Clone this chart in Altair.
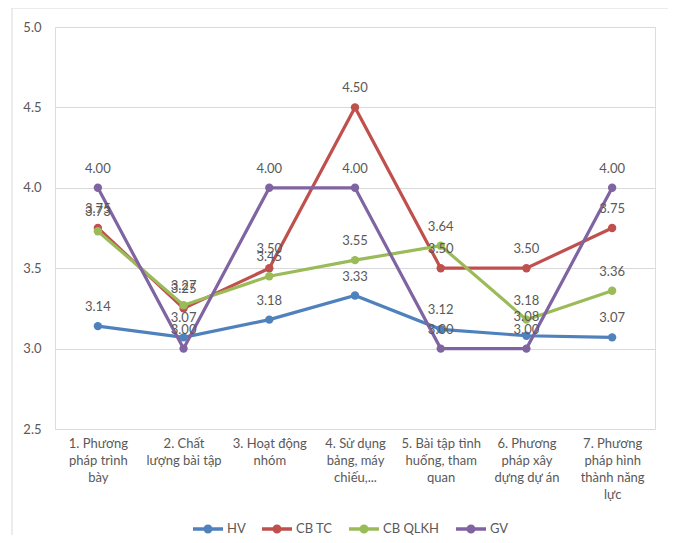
import altair as alt
import pandas as pd

category_lines = [
    ["1. Phương", "pháp trình", "bày"],
    ["2. Chất", "lượng bài tập"],
    ["3. Hoạt động", "nhóm"],
    ["4. Sử dụng", "bảng, máy", "chiếu,..."],
    ["5. Bài tập tình", "huống, tham", "quan"],
    ["6. Phương", "pháp xây", "dựng dự án"],
    ["7. Phương", "pháp hình", "thành năng", "lực"],
]
categories = ["\n".join(c) for c in category_lines]

series = ["HV", "CB TC", "CB QLKH", "GV"]
colors = ["#4F81BD", "#C0504D", "#9BBB59", "#8064A2"]

hv = [3.14, 3.07, 3.18, 3.33, 3.12, 3.08, 3.07]
cb_tc = [3.75, 3.25, 3.50, 4.50, 3.50, 3.50, 3.75]
cb_qlkh = [3.73, 3.27, 3.45, 3.55, 3.64, 3.18, 3.36]
gv = [4.00, 3.00, 4.00, 4.00, 3.00, 3.00, 4.00]

rows = []
for name, vals in zip(series, [hv, cb_tc, cb_qlkh, gv]):
    for i, (c, v) in enumerate(zip(categories, vals)):
        rows.append({"cat": c, "series": name, "value": v, "order": i})
df = pd.DataFrame(rows)

FONT = "Lato"
GREY = "#595959"

x = alt.X("cat:N", sort=categories, title=None,
          scale=alt.Scale(padding=0.5),
          axis=alt.Axis(labelExpr="split(datum.value, '\\n')", labelAngle=0,
                        labelFontSize=13, labelColor=GREY, labelFont=FONT,
                        labelLineHeight=17, labelPadding=8, labelBaseline="top",
                        domain=False, ticks=False, grid=False, labelLimit=200))
y = alt.Y("value:Q", title=None,
          scale=alt.Scale(domain=[2.5, 5.0], nice=False, zero=False),
          axis=alt.Axis(values=[2.5, 3.0, 3.5, 4.0, 4.5, 5.0], format=".1f",
                        labelFontSize=13, labelColor=GREY, labelFont=FONT,
                        labelPadding=14, domain=False, ticks=False,
                        gridColor="#D9D9D9", gridWidth=1))
color_scale = alt.Scale(domain=series, range=colors)

legend_path = ("M-1,-0.12L1,-0.12L1,0.12L-1,0.12Z "
               "M-0.3,0A0.3,0.3 0 1,1 0.3,0A0.3,0.3 0 1,1 -0.3,0Z")
legend = alt.Legend(title=None, orient="none", direction="horizontal",
                    legendX=138, legendY=487,
                    symbolType=legend_path, symbolSize=900,
                    symbolStrokeWidth=0,
                    labelFontSize=13, labelColor=GREY, labelFont=FONT,
                    labelOffset=4, columnPadding=16)
color = alt.Color("series:N", scale=color_scale, legend=legend)

base = alt.Chart(df)

lines = base.mark_line(strokeWidth=3.2).encode(
    x=x, y=y, color=color, order="order:Q",
)

points = base.mark_point(filled=True, size=70, opacity=1).encode(
    x=x, y=y, color=color,
)

labels = base.mark_text(dy=-12, baseline="bottom", fontSize=13, color=GREY, font=FONT).encode(
    x=x, y=y,
    text=alt.Text("value:Q", format=".2f"),
)

border = alt.Chart(pd.DataFrame({"a": [0]})).mark_rect(
    fill=None, stroke="#D9D9D9", strokeWidth=1
).encode(x=alt.value(-43), x2=alt.value(617), y=alt.value(-19), y2=alt.value(512))

chart = alt.layer(border, lines, points, labels).properties(
    width=600, height=402,
    autosize=alt.AutoSizeParams(type="none"),
    padding={"left": 47, "top": 19, "right": 13, "bottom": 106},
).configure_view(stroke=None).configure(background="white")

chart.save("out.html", embed_options={"renderer": "svg", "actions": False})
